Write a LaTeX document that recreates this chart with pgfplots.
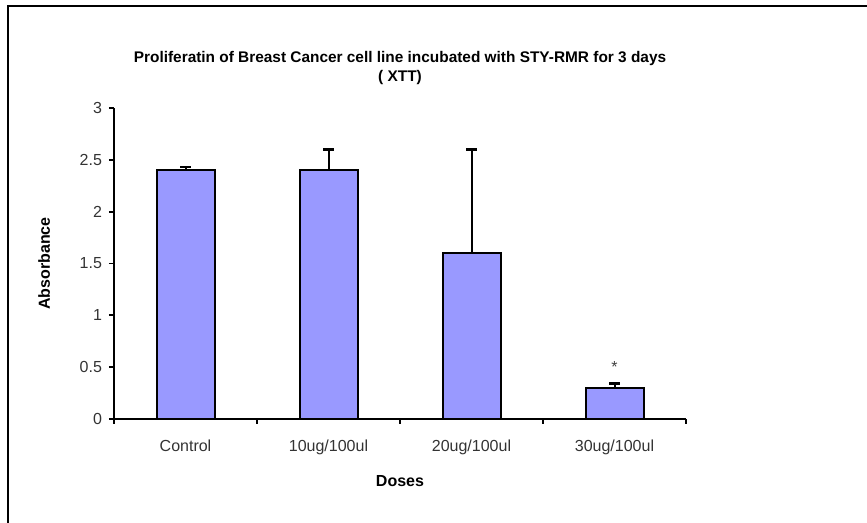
\documentclass[border=0pt]{standalone}
\usepackage{pgfplots}
\pgfplotsset{compat=1.18}
\usepackage{fontspec}
\setmainfont{Liberation Sans}
\definecolor{barblue}{HTML}{9999FF}
\begin{document}
\begin{tikzpicture}
  % page is 867 x 523 px, 1 px = 0.5pt
  \useasboundingbox (0,0) rectangle (433.5pt,261.5pt);
  \draw[line width=1pt] (4pt,0) -- (4pt,258.5pt) -- (433.5pt,258.5pt);
  \begin{axis}[
    at={(57pt,52pt)}, anchor=south west,
    scale only axis,
    width=286pt, height=155.5pt,
    xmin=0, xmax=4, ymin=0, ymax=3,
    axis x line*=bottom, axis y line*=left,
    axis line style={line width=0.9pt},
    every tick/.style={black, line width=0.9pt},
    ytick={0,0.5,...,3},
    yticklabel style={font=\fontsize{8}{9}\selectfont, text=black!80},
    y tick label style={/pgf/number format/.cd, fixed, assume math mode=true},
    tick align=outside,
    major tick length=2.5pt,
    xtick={0,1,2,3,4},
    xticklabels={},
    extra x ticks={0.5,1.5,2.5,3.5},
    extra x tick labels={Control,10ug/100ul,20ug/100ul,30ug/100ul},
    extra x tick style={major tick length=0pt,
      tick label style={font=\fontsize{8}{9}\selectfont, text=black!80, yshift=-7pt}},
    xlabel={\textbf{Doses}},
    xlabel style={font=\fontsize{8}{9}\selectfont, yshift=-1pt},
    ylabel={\textbf{Absorbance}},
    ylabel style={font=\fontsize{8}{9}\selectfont, yshift=8pt},
    title={\textbf{Proliferatin of Breast Cancer cell line incubated with STY-RMR for 3 days}\\\textbf{( XTT)}},
    title style={font=\fontsize{7.7}{9.5}\selectfont, align=center, yshift=2pt},
    clip=false,
  ]
    \addplot[ybar, bar width=29pt, fill=barblue, draw=black, line width=1pt,
      error bars/.cd, y dir=plus, y explicit,
      error mark=|, error mark options={line width=1.3pt, mark size=2.6pt},
      error bar style={line width=1pt}]
      coordinates {
        (0.5,2.40) +- (0,0.03)
        (1.5,2.40) +- (0,0.20)
        (2.5,1.60) +- (0,1.00)
        (3.5,0.30) +- (0,0.04)
      };
    \node[text=black!75, font=\fontsize{8}{9}\selectfont] at (axis cs:3.5,0.50) {*};
  \end{axis}
\end{tikzpicture}
\end{document}
